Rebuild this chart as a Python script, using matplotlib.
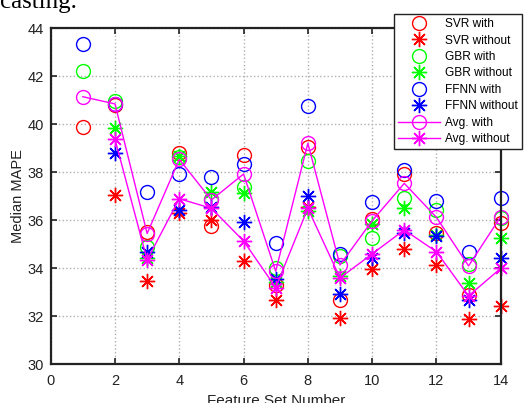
import numpy as np
from matplotlib import pyplot as plt

nan = np.nan

feature_sets = list(range(1, 15))

svr_with = [39.875, 40.8, 35.5, 38.82, 35.76, 38.72, 33.3, 39.04, 32.68, 36.04, 37.93, 35.48, 32.89, 35.875]
svr_without = [nan, 37.05, 33.48, 36.32, 36.01, 34.32, 32.66, 36.57, 31.92, 33.96, 34.79, 34.14, 31.875, 32.45]
gbr_with = [42.23, 40.97, 34.88, 38.65, 36.875, 37.375, 34.0, 38.48, 34.5, 35.25, 36.92, 36.43, 34.2, 36.1]
gbr_without = [nan, 39.83, 34.45, 38.68, 37.17, 37.125, 33.44, 36.4, 33.67, 35.85, 36.5, 35.39, 33.4, 35.25]
ffnn_with = [43.33, 40.85, 37.19, 37.92, 37.82, 38.35, 35.04, 40.78, 34.6, 36.78, 38.1, 36.8, 34.67, 36.92]
ffnn_without = [nan, 38.82, 34.69, 36.43, 36.55, 35.94, 33.55, 37.01, 32.92, 34.42, 35.48, 35.35, 32.68, 34.42]
avg_with = [41.15, 40.85, 35.45, 38.54, 36.85, 37.93, 33.88, 39.21, 34.14, 35.98, 37.54, 36.125, 34.1, 36.15]
avg_without = [nan, 39.375, 34.35, 36.9, 36.5, 35.14, 33.2, 36.5, 33.6, 34.6, 35.6, 34.69, 32.85, 34.0]

series = [
    ("SVR with", svr_with, "#ff0000", "o", "none"),
    ("SVR without", svr_without, "#ff0000", "*", "none"),
    ("GBR with", gbr_with, "#00ff00", "o", "none"),
    ("GBR without", gbr_without, "#00ff00", "*", "none"),
    ("FFNN with", ffnn_with, "#0000ff", "o", "none"),
    ("FFNN without", ffnn_without, "#0000ff", "*", "none"),
    ("Avg. with", avg_with, "#ff00ff", "o", "-"),
    ("Avg. without", avg_without, "#ff00ff", "*", "-"),
]

plt.rcParams["font.family"] = ["Liberation Sans", "DejaVu Sans"]

fig = plt.figure(figsize=(5.26, 4.03), dpi=100)
ax = fig.add_axes([0.0964, 0.096, 0.8555, 0.8337])

# matlab style asterisk: 8 arms
asterisk = (8, 2, 0)

for label, values, color, marker, ls in series:
    m = asterisk if marker == "*" else "o"
    ax.plot(
        feature_sets,
        values,
        linestyle=ls,
        linewidth=1.0,
        color=color,
        marker=m,
        markersize=10 if marker == "o" else 11,
        markerfacecolor="none",
        markeredgecolor=color,
        markeredgewidth=1.0,
        label=label,
        clip_on=False,
    )

ax.set_xlim(0, 14)
ax.set_ylim(30, 44)
ax.set_xticks(range(0, 15, 2))
ax.set_yticks(range(30, 45, 2))
ax.grid(True, linestyle=":", color="#b0b0b0", linewidth=1.0)
ax.set_axisbelow(True)

ax.tick_params(direction="in", top=True, right=True, length=4, width=1.2,
               labelsize=10.5, colors="#222222", pad=5)
ax.tick_params(axis="x", pad=7)
for sp in ax.spines.values():
    sp.set_linewidth(1.6)
    sp.set_color("#222222")

ax.set_xlabel("Feature Set Number", fontsize=11, color="#222222", labelpad=4)
ax.set_ylabel("Median MAPE", fontsize=10.5, color="#222222", labelpad=2)

leg = fig.legend(
    loc="upper right",
    bbox_to_anchor=(522 / 526, 1 - 14 / 403),
    fontsize=8.6,
    frameon=True,
    fancybox=False,
    framealpha=1,
    edgecolor="#222222",
    handlelength=3.5,
    handletextpad=0.4,
    labelspacing=0.37,
    borderpad=0.35,
    borderaxespad=0,
)
leg.get_frame().set_linewidth(1.0)

fig.text(0.0, 1 - 8 / 403, "casting.", fontsize=18, family="Liberation Serif",
         va="baseline", ha="left", color="black")

fig.savefig("out.png", dpi=100)
